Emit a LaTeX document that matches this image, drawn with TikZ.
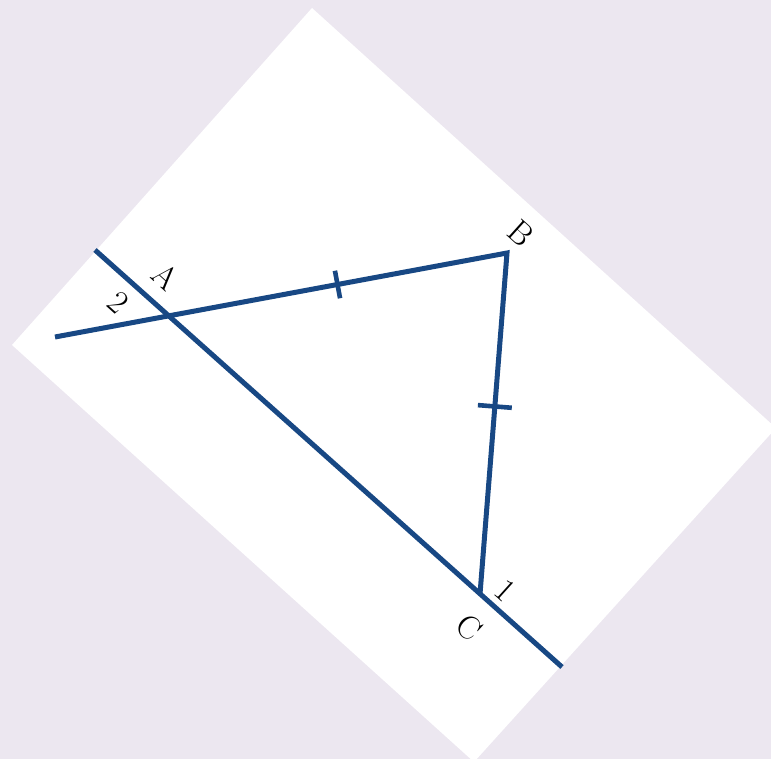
\documentclass[tikz,border=0pt]{standalone}
\usetikzlibrary{calc}
\definecolor{paper}{RGB}{236,231,240}
\definecolor{ink}{RGB}{24,72,132}
\begin{document}
\begin{tikzpicture}[
  x=1pt, y=-1pt,
  seg/.style={draw=ink, line width=5pt, line join=miter},
  tick/.style={draw=ink, line width=4.6pt},
  lbl/.style={font=\fontsize{33}{33}\selectfont, rotate=-42, inner sep=0pt}
]
\fill[paper] (0,0) rectangle (771,759);
\useasboundingbox (0,0) rectangle (771,759);
\fill[white] (312,8) -- (776,428) -- (474,762) -- (12,345) -- cycle;

\coordinate (A) at (168,316);
\coordinate (B) at (507,253);
\coordinate (C) at (480,594);
\coordinate (endAC) at (95,250);
\coordinate (endCA) at (562,667);
\coordinate (endBA) at (55,337);

\draw[seg] (endAC) -- (endCA);
\draw[seg] (endBA) -- (B) -- (C);

\coordinate (mAB) at ($(A)!0.5!(B)$);
\coordinate (mBC) at ($(B)!0.45!(C)$);
\draw[tick] ($(mAB)!14pt!90:(B)$) -- ($(mAB)!14pt!-90:(B)$);
\draw[tick] ($(mBC)!17pt!90:(C)$) -- ($(mBC)!17pt!-90:(C)$);

\node[lbl] (labA) at (166,276) {A};
\node[lbl] (labB) at (521,233) {B};
\node[lbl] (labC) at (469,627) {C};
\node[lbl] (lab1) at (505,590) {1};
\node[lbl] (lab2) at (118,302) {2};
\end{tikzpicture}
\end{document}
